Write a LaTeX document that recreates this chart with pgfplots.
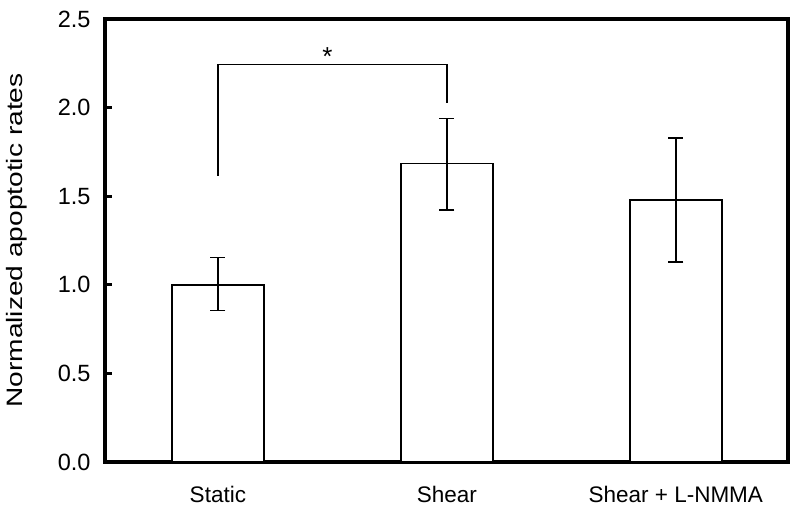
\documentclass[border=0pt]{standalone}
\usepackage{graphicx}
\usepackage{pgfplots}
\pgfplotsset{compat=1.18}
\usepackage{fontspec}
\setmainfont{Liberation Sans}
\begin{document}
\begin{tikzpicture}
\begin{axis}[
  scale only axis,
  width=683pt, height=443pt,
  xmin=-0.493, xmax=2.49,
  ymin=0, ymax=2.5,
  axis line style={line width=3.5pt},
  xtick=data,
  xticklabels={Static, Shear, Shear + L-NMMA},
  x tick style={draw=none},
  ytick={0,0.5,1,1.5,2,2.5},
  ytick pos=left,
  tick align=inside,
  y tick style={line width=3pt, black},
  major tick length=7pt,
  /pgf/number format/assume math mode=true,
  yticklabel={\pgfmathprintnumber[fixed,fixed zerofill,precision=1]{\tick}},
  yticklabel style={font=\fontsize{23.5}{27}\selectfont, xshift=-11pt},
  xticklabel style={font=\fontsize{22.5}{26}\selectfont, yshift=-21pt},
  ylabel={\scalebox{1.26}[1]{Normalized apoptotic rates}},
  every axis y label/.style={at={(axis description cs:-0.1288,0.5)}, rotate=90, anchor=center, font=\fontsize{22.3}{26}\selectfont},
  clip=false,
]
\addplot[ybar, bar width=92pt, fill=white, draw=black, line width=1.6pt,
  error bars/.cd, y dir=both, y explicit,
  error bar style={line width=1.6pt, black},
  error mark options={rotate=90, mark size=7.5pt, line width=1.6pt, black}]
  table[x=x, y=y, y error plus=ep, y error minus=em] {
x y ep em
0 1.000 0.155 0.145
1 1.685 0.254 0.264
2 1.478 0.350 0.350
};
\addplot[black, line width=1.6pt, mark=none] coordinates {(0,1.616) (0,2.244) (1,2.244) (1,2.024)};
\node[font=\fontsize{26}{30}\selectfont] at (axis cs:0.479,2.29) {*};
\end{axis}
\path ([shift={(-105pt,-48pt)}]current axis.south west) rectangle ([shift={(12pt,19pt)}]current axis.north east);
\end{tikzpicture}
\end{document}
